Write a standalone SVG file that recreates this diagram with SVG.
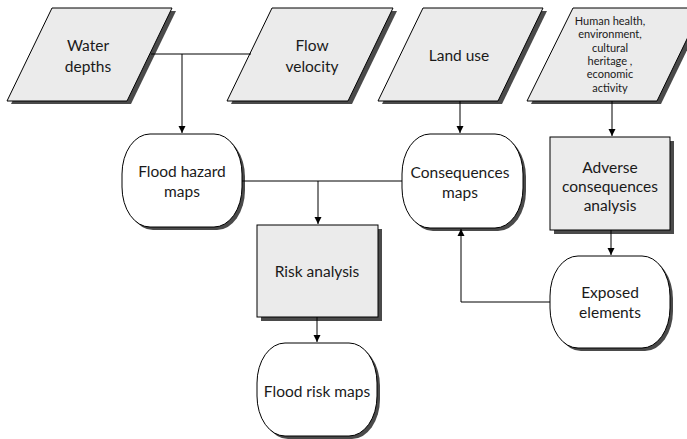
<svg xmlns="http://www.w3.org/2000/svg" width="687" height="439" viewBox="0 0 687 439">
<defs>
<style>
.shape{stroke:#000;stroke-width:1}
.gray{fill:#ebebeb}
.white{fill:#fff}
.shadow{fill:#4a4a4a;stroke:none}
.t{font-family:Lato,"Open Sans","Liberation Sans",sans-serif;font-size:15.5px;fill:#1a1a1a;text-anchor:middle}
.ts{font-family:Lato,"Open Sans","Liberation Sans",sans-serif;font-size:11px;fill:#1a1a1a;text-anchor:middle}
.c{fill:none;stroke:#000;stroke-width:1}
</style>
<marker id="arr" viewBox="0 0 10 10" refX="10" refY="5" markerWidth="7" markerHeight="9" markerUnits="userSpaceOnUse" orient="auto">
<path d="M0,0 L10,5 L0,10 Z" fill="#000"/>
</marker>
</defs>
<rect width="687" height="439" fill="#fff"/>

<g id="water-depths">
<polygon class="shadow" points="56,11 176,11 131,104 11,104"/>
<polygon class="shape gray" points="52,8 172,8 127,101 7,101"/>
<text class="t" x="88" y="51">Water</text>
<text class="t" x="88" y="72">depths</text>
</g>

<g id="flow-velocity">
<polygon class="shadow" points="276,11 397,11 352,104 231,104"/>
<polygon class="shape gray" points="272,8 393,8 348,101 227,101"/>
<text class="t" x="312" y="51">Flow</text>
<text class="t" x="312" y="72">velocity</text>
</g>

<g id="land-use">
<polygon class="shadow" points="427,11 547,11 502,104 382,104"/>
<polygon class="shape gray" points="423,8 543,8 498,101 378,101"/>
<text class="t" x="459" y="61">Land use</text>
</g>

<g id="human-health">
<polygon class="shadow" points="577,11 706,11 661,104 531,104"/>
<polygon class="shape gray" points="573,8 702,8 657,101 527,101"/>
<text class="ts" x="610" y="25">Human health,</text>
<text class="ts" x="610" y="38">environment,</text>
<text class="ts" x="610" y="51.5">cultural</text>
<text class="ts" x="610" y="64.5">heritage ,</text>
<text class="ts" x="610" y="78">economic</text>
<text class="ts" x="610" y="91.5">activity</text>
</g>

<g id="flood-hazard-maps">
<rect class="shadow" x="125" y="137" width="120" height="93" rx="28" ry="40"/>
<rect class="shape white" x="122" y="134" width="120" height="93" rx="28" ry="40"/>
<text class="t" x="182" y="177">Flood hazard</text>
<text class="t" x="182" y="197">maps</text>
</g>

<g id="consequences-maps">
<rect class="shadow" x="405" y="137" width="121" height="94" rx="28" ry="40"/>
<rect class="shape white" x="402" y="134" width="121" height="94" rx="28" ry="40"/>
<text class="t" x="460" y="178">Consequences</text>
<text class="t" x="460" y="198">maps</text>
</g>

<g id="adverse-consequences-analysis">
<rect class="shadow" x="554" y="141" width="120" height="93"/>
<rect class="shape gray" x="550" y="137" width="120" height="93"/>
<text class="t" x="610" y="173">Adverse</text>
<text class="t" x="610" y="192">consequences</text>
<text class="t" x="610" y="211">analysis</text>
</g>

<g id="risk-analysis">
<rect class="shadow" x="261" y="229" width="121" height="92"/>
<rect class="shape gray" x="257" y="225" width="121" height="92"/>
<text class="t" x="317" y="277">Risk analysis</text>
</g>

<g id="flood-risk-maps">
<rect class="shadow" x="260" y="346" width="120" height="93" rx="28" ry="40"/>
<rect class="shape white" x="257" y="343" width="120" height="93" rx="28" ry="40"/>
<text class="t" x="317" y="397">Flood risk maps</text>
</g>

<g id="exposed-elements">
<rect class="shadow" x="553" y="259" width="120" height="92" rx="28" ry="40"/>
<rect class="shape white" x="550" y="256" width="120" height="92" rx="28" ry="40"/>
<text class="t" x="610" y="298">Exposed</text>
<text class="t" x="610" y="318">elements</text>
</g>

<g id="connectors">
<path class="c" d="M151,54 H251"/>
<path class="c" d="M182,54 V133" marker-end="url(#arr)"/>
<path class="c" d="M460,101 V133" marker-end="url(#arr)"/>
<path class="c" d="M612,101 V136" marker-end="url(#arr)"/>
<path class="c" d="M242,181 H402"/>
<path class="c" d="M318,181 V224" marker-end="url(#arr)"/>
<path class="c" d="M317,317 V342" marker-end="url(#arr)"/>
<path class="c" d="M611,230 V255" marker-end="url(#arr)"/>
<path class="c" d="M550,302 H461 V229" marker-end="url(#arr)"/>
</g>
</svg>
